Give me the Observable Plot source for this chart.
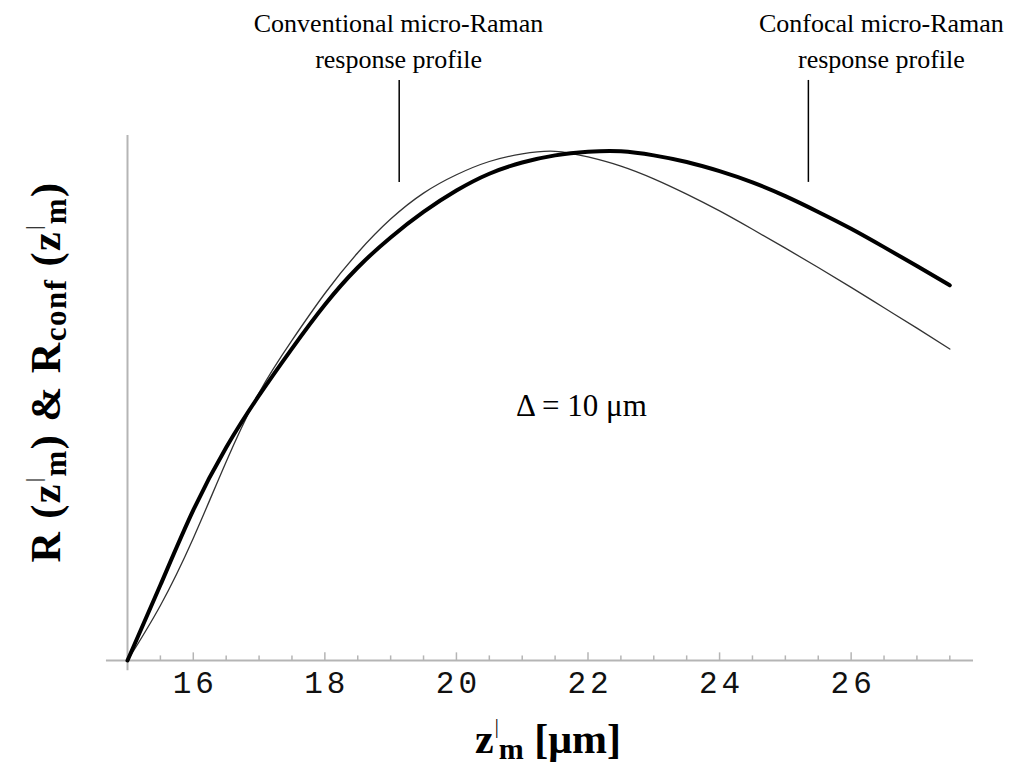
<!DOCTYPE html>
<html>
<head>
<meta charset="utf-8">
<script src="https://cdn.jsdelivr.net/npm/d3@7"></script>
<script src="https://cdn.jsdelivr.net/npm/@observablehq/plot@0.6"></script>
<style>
  html, body { margin: 0; padding: 0; background: #fff; }
  #chart { width: 1013px; height: 773px; }
  .tick-labels text { letter-spacing: 4px; }
</style>
</head>
<body>
<div id="chart"></div>
<script>
// Focal depth z'_m [µm]
const zGrid = [15, 15.5, 16, 16.5, 17, 17.5, 18, 18.5, 19, 19.5, 20, 20.5, 21, 21.5, 22, 22.5, 23, 23.5, 24, 24.5, 25, 25.5, 26, 26.5, 27, 27.5];

// Conventional micro-Raman response profile (thin curve), normalised
const rConventional = [0, 0.108, 0.240, 0.390, 0.525, 0.628, 0.720, 0.800, 0.866, 0.917, 0.953, 0.979, 0.994, 0.999, 0.988, 0.970, 0.945, 0.915, 0.882, 0.846, 0.809, 0.771, 0.732, 0.692, 0.652, 0.611];

// Confocal micro-Raman response profile (thick curve), normalised
const rConfocal = [0, 0.148, 0.295, 0.418, 0.520, 0.612, 0.698, 0.771, 0.830, 0.880, 0.922, 0.955, 0.977, 0.991, 0.998, 0.999, 0.991, 0.978, 0.960, 0.938, 0.911, 0.880, 0.847, 0.811, 0.774, 0.736];

// Axis ticks
const majorTicks = [16, 18, 20, 22, 24, 26];
const minorTicks = [15.5, 16.5, 17, 17.5, 18.5, 19, 19.5, 20.5, 21, 21.5, 22.5, 23, 23.5, 24.5, 25, 25.5, 26.5, 27, 27.5];

// Annotations
const annotationLabels = ["Conventional micro-Raman\nresponse profile", "Confocal micro-Raman\nresponse profile"];
const annotationTextZ = [19.12, 26.46];
const annotationTextR = [1.284, 1.284];
const pointerZ = [19.13, 25.35];
const pointerR1 = [0.938, 0.938];
const pointerR2 = [1.138, 1.138];
const deltaLabel = ["Δ = 10 μm"];
const deltaZ = [21.9];
const deltaR = [0.50];

const conventional = zGrid.map((z, i) => ({z, r: rConventional[i]}));
const confocal = zGrid.map((z, i) => ({z, r: rConfocal[i]}));
const annotations = annotationLabels.map((t, i) => ({t, z: annotationTextZ[i], r: annotationTextR[i]}));
const pointers = pointerZ.map((z, i) => ({z, r1: pointerR1[i], r2: pointerR2[i]}));
const delta = deltaLabel.map((t, i) => ({t, z: deltaZ[i], r: deltaR[i]}));

const axisGray = "#b5b5b5";
const serif = "'Liberation Serif', 'Times New Roman', serif";

const plot = Plot.plot({
  width: 1013,
  height: 773,
  marginLeft: 127,
  marginRight: 40,
  marginTop: 135,
  marginBottom: 113,
  x: {domain: [15, 27.86], axis: null},
  y: {domain: [0, 1.03], axis: null},
  style: {background: "#fff", overflow: "visible"},
  marks: [
    Plot.ruleY([0], {x1: 14.68, x2: 27.86, stroke: axisGray, strokeWidth: 2}),
    Plot.ruleX([15], {y1: -0.02, y2: 1.03, stroke: axisGray, strokeWidth: 2}),
    Plot.ruleX(minorTicks, {y1: 0, y2: 0.009, stroke: axisGray, strokeWidth: 1.5}),
    Plot.ruleX(majorTicks, {y1: 0, y2: 0.015, stroke: axisGray, strokeWidth: 1.5}),
    Plot.axisX({ticks: majorTicks, tickSize: 0, tickPadding: 10, label: null, className: "tick-labels",
      dx: 2, fontSize: 31, fontFamily: "'Liberation Mono', 'DejaVu Sans Mono', monospace", fill: "#111"}),
    Plot.line(conventional, {x: "z", y: "r", stroke: "#333", strokeWidth: 1.3, curve: "natural"}),
    Plot.line(confocal, {x: "z", y: "r", stroke: "#000", strokeWidth: 4, curve: "natural"}),
    Plot.ruleX(pointers, {x: "z", y1: "r1", y2: "r2", stroke: "#000", strokeWidth: 1.5}),
    Plot.text(annotations, {x: "z", y: "r", text: "t", lineAnchor: "top", lineHeight: 1.4,
      fontSize: 26, fontFamily: serif, fill: "#000"}),
    Plot.text(delta, {x: "z", y: "r", text: "t", fontSize: 31, fontFamily: serif, fill: "#000"})
  ]
});

document.getElementById("chart").appendChild(plot);

// Axis titles with sub/superscripts
const svg = d3.select(plot);
function richText(parent, pieces) {
  pieces.forEach(p => {
    const ts = parent.append("tspan").text(p.t);
    if (p.dx) ts.attr("dx", p.dx);
    if (p.dy) ts.attr("dy", p.dy);
    if (p.size) ts.attr("font-size", p.size);
    if (p.weight) ts.attr("font-weight", p.weight);
  });
}

const xTitle = svg.append("text")
  .attr("x", 548).attr("y", 753)
  .attr("text-anchor", "middle")
  .attr("font-family", serif)
  .attr("font-weight", "bold")
  .attr("font-size", 42)
  .attr("fill", "#000");
richText(xTitle, [
  {t: "z"},
  {t: "|", dx: 1, dy: -20, size: 20, weight: "normal"},
  {t: "m", dy: 26, size: 30},
  {t: " [μm]", dy: -6}
]);

const yTitle = svg.append("text")
  .attr("transform", "translate(60,372) rotate(-90)")
  .attr("text-anchor", "middle")
  .attr("font-family", serif)
  .attr("font-weight", "bold")
  .attr("font-size", 42)
  .attr("letter-spacing", 1.5)
  .attr("fill", "#000");
richText(yTitle, [
  {t: "R ("},
  {t: "z"},
  {t: "|", dx: 1, dy: -20, size: 20, weight: "normal"},
  {t: "m", dy: 26, size: 31},
  {t: ") & R", dy: -6},
  {t: "conf", dy: 6, size: 31},
  {t: " (", dy: -6},
  {t: "z"},
  {t: "|", dx: 1, dy: -20, size: 20, weight: "normal"},
  {t: "m", dy: 26, size: 31},
  {t: ")", dy: -6}
]);
</script>
</body>
</html>
